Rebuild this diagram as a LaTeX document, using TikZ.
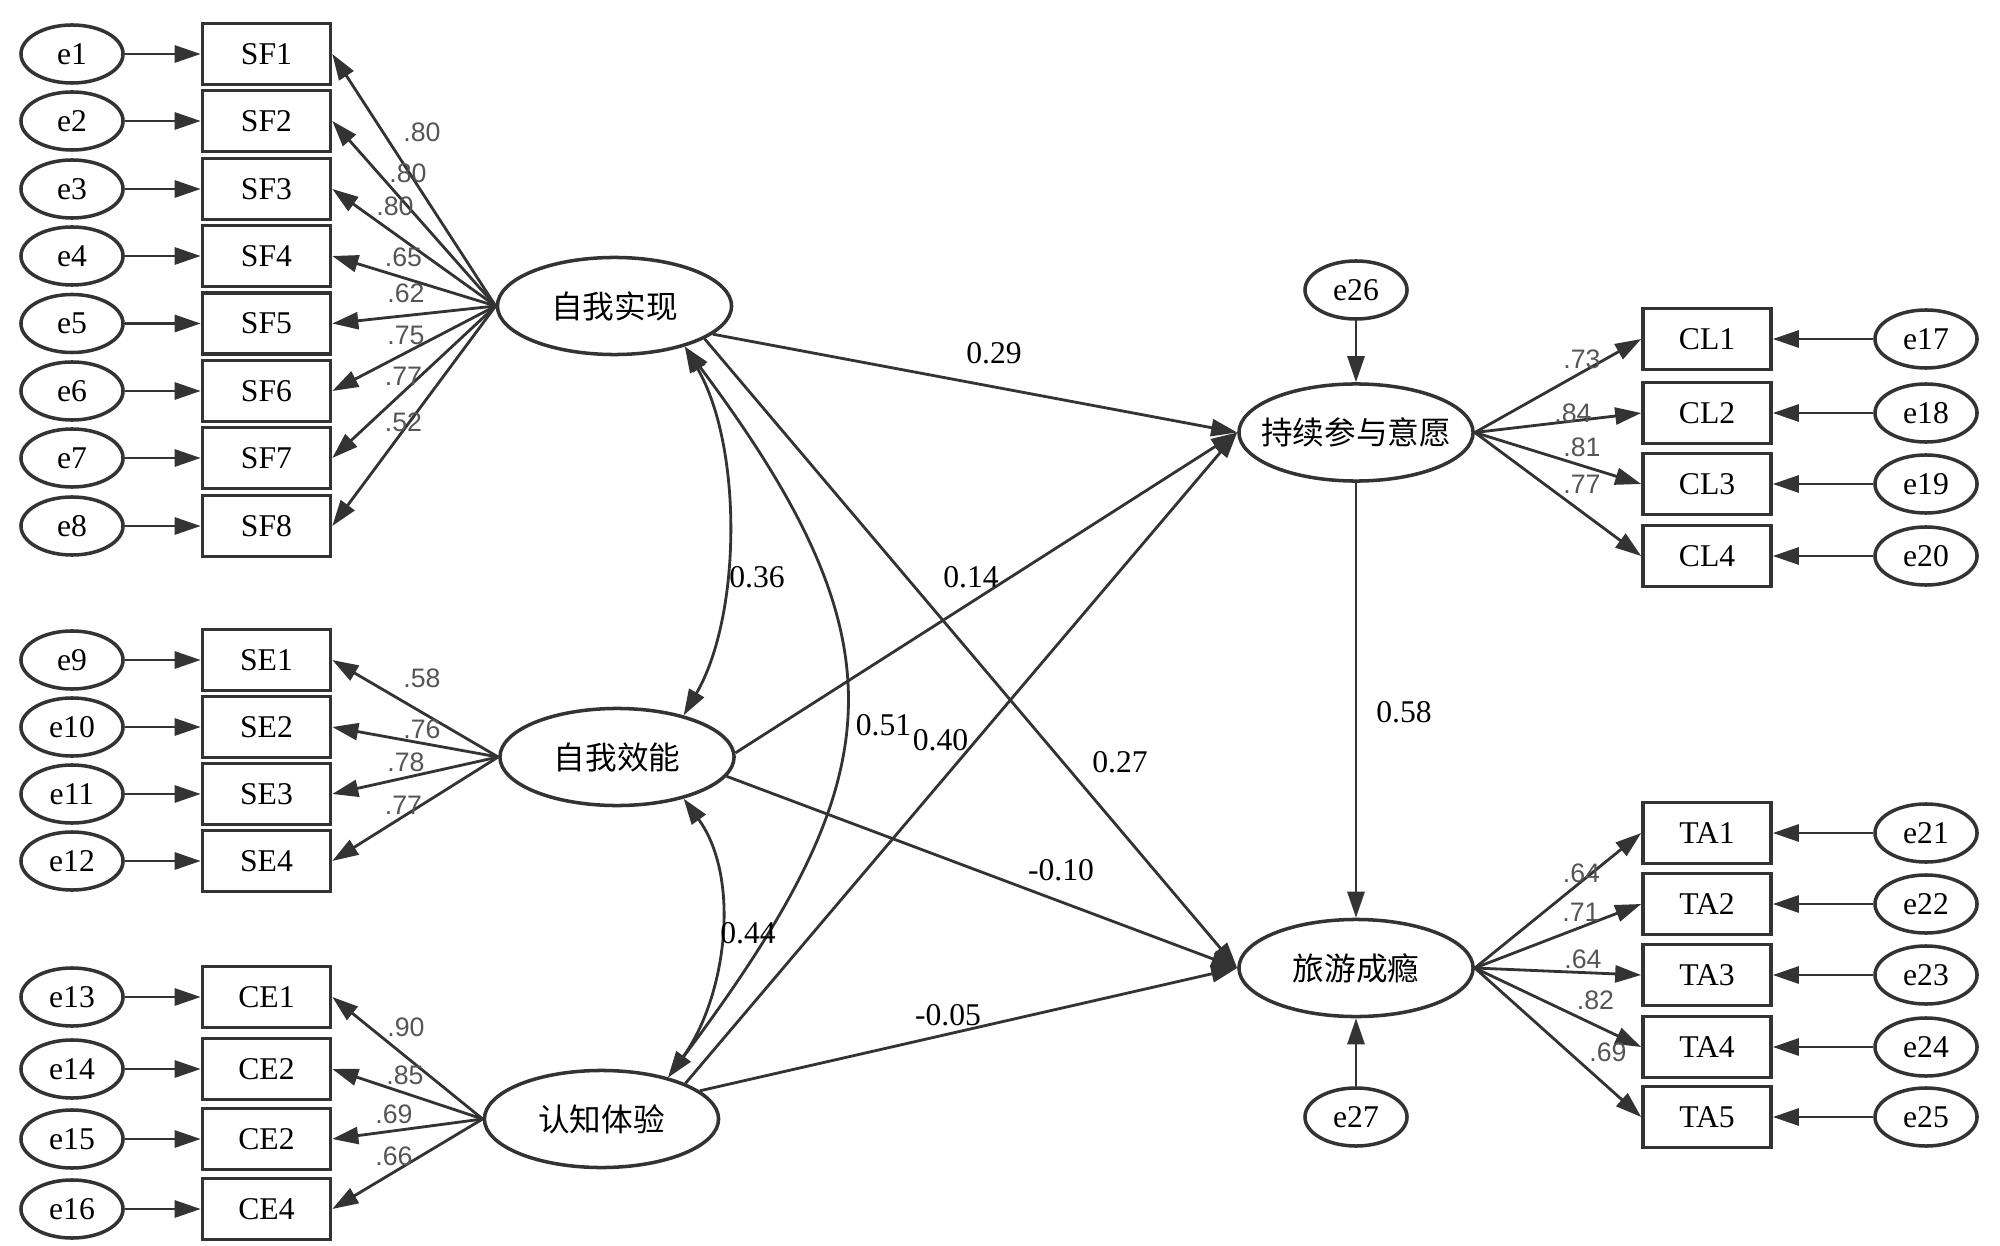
\documentclass[tikz,border=0pt]{standalone}
\usepackage{fontspec}
\setmainfont{Liberation Serif}
\newfontfamily\lsans{Liberation Sans}
\newfontfamily\cjk{Noto Sans CJK SC}
\usetikzlibrary{arrows.meta, shapes.geometric, positioning}
\definecolor{linec}{RGB}{51,51,51}
\definecolor{labgray}{RGB}{85,85,85}

\begin{document}
\begin{tikzpicture}[x=0.01cm, y=-0.01cm,
  err/.style={ellipse, draw=linec, line width=1pt, minimum width=1.02cm, minimum height=0.58cm, inner sep=0pt, font=\fontsize{9}{10}\selectfont},
  obs/.style={rectangle, draw=linec, line width=1pt, minimum width=1.28cm, minimum height=0.61cm, inner sep=0pt, font=\fontsize{9}{10}\selectfont},
  lat/.style={ellipse, draw=linec, line width=1pt, minimum width=2.34cm, minimum height=0.97cm, inner sep=0pt, font=\cjk\fontsize{9}{10}\selectfont},
  load/.style={text=labgray, inner sep=0pt, font=\lsans\fontsize{7.6}{8}\selectfont},
  coef/.style={inner sep=0pt, font=\fontsize{9}{10}\selectfont},
  arr/.style={draw=linec, line width=0.8pt, -{Triangle[length=2.6mm,width=1.7mm]}},
  cov/.style={draw=linec, line width=0.8pt, {Triangle[length=2.6mm,width=1.7mm]}-{Triangle[length=2.6mm,width=1.7mm]}}]
\useasboundingbox (0,0) rectangle (2000,1246);
% latent variables
\node[lat] (sa) at (614.5,306) {自我实现};
\node[lat] (se) at (617,757) {自我效能};
\node[lat] (ce) at (601.5,1119) {认知体验};
\node[lat] (cl) at (1356,432.5) {\makebox[0pt]{持续参与意愿}};
\node[lat] (ta) at (1356,968) {旅游成瘾};
\node[err] (e26) at (1356,290) {e26};
\node[err] (e27) at (1356,1117) {e27};
% indicators of sa
\node[err] (e1) at (72,54) {e1};
\node[err] (e2) at (72,121) {e2};
\node[err] (e3) at (72,189) {e3};
\node[err] (e4) at (72,256) {e4};
\node[err] (e5) at (72,323.5) {e5};
\node[err] (e6) at (72,391) {e6};
\node[err] (e7) at (72,458) {e7};
\node[err] (e8) at (72,526) {e8};
\node[obs] (sf1) at (266.5,54) {SF1};
\node[obs] (sf2) at (266.5,121) {SF2};
\node[obs] (sf3) at (266.5,189) {SF3};
\node[obs] (sf4) at (266.5,256) {SF4};
\node[obs] (sf5) at (266.5,323.5) {SF5};
\node[obs] (sf6) at (266.5,391) {SF6};
\node[obs] (sf7) at (266.5,458) {SF7};
\node[obs] (sf8) at (266.5,526) {SF8};
\draw[arr] (e1) -- (sf1);
\draw[arr] (e2) -- (sf2);
\draw[arr] (e3) -- (sf3);
\draw[arr] (e4) -- (sf4);
\draw[arr] (e5) -- (sf5);
\draw[arr] (e6) -- (sf6);
\draw[arr] (e7) -- (sf7);
\draw[arr] (e8) -- (sf8);
\draw[arr] (sa.west) -- (sf1.east);
\draw[arr] (sa.west) -- (sf2.east);
\draw[arr] (sa.west) -- (sf3.east);
\draw[arr] (sa.west) -- (sf4.east);
\draw[arr] (sa.west) -- (sf5.east);
\draw[arr] (sa.west) -- (sf6.east);
\draw[arr] (sa.west) -- (sf7.east);
\draw[arr] (sa.west) -- (sf8.east);
\node[load] (lsf1) at (422,132) {.80};
\node[load] (lsf2) at (408,173) {.80};
\node[load] (lsf3) at (395,206.5) {.80};
\node[load] (lsf4) at (403.5,257.5) {.65};
\node[load] (lsf5) at (406,293) {.62};
\node[load] (lsf6) at (406,335) {.75};
\node[load] (lsf7) at (403.5,376.5) {.77};
\node[load] (lsf8) at (403.5,422) {.52};
% indicators of se
\node[err] (e9) at (72,660) {e9};
\node[err] (e10) at (72,727) {e10};
\node[err] (e11) at (72,794) {e11};
\node[err] (e12) at (72,861) {e12};
\node[obs] (se1) at (266.5,660) {SE1};
\node[obs] (se2) at (266.5,727) {SE2};
\node[obs] (se3) at (266.5,794) {SE3};
\node[obs] (se4) at (266.5,861) {SE4};
\draw[arr] (e9) -- (se1);
\draw[arr] (e10) -- (se2);
\draw[arr] (e11) -- (se3);
\draw[arr] (e12) -- (se4);
\draw[arr] (se.west) -- (se1.east);
\draw[arr] (se.west) -- (se2.east);
\draw[arr] (se.west) -- (se3.east);
\draw[arr] (se.west) -- (se4.east);
\node[load] (lse1) at (422,678.5) {.58};
\node[load] (lse2) at (422,729) {.76};
\node[load] (lse3) at (406,762) {.78};
\node[load] (lse4) at (403.5,805) {.77};
% indicators of ce
\node[err] (e13) at (72,997) {e13};
\node[err] (e14) at (72,1069) {e14};
\node[err] (e15) at (72,1139) {e15};
\node[err] (e16) at (72,1209) {e16};
\node[obs] (ce1) at (266.5,997) {CE1};
\node[obs] (ce2) at (266.5,1069) {CE2};
\node[obs] (ce3) at (266.5,1139) {CE2};
\node[obs] (ce4) at (266.5,1209) {CE4};
\draw[arr] (e13) -- (ce1);
\draw[arr] (e14) -- (ce2);
\draw[arr] (e15) -- (ce3);
\draw[arr] (e16) -- (ce4);
\draw[arr] (ce.west) -- (ce1.east);
\draw[arr] (ce.west) -- (ce2.east);
\draw[arr] (ce.west) -- (ce3.east);
\draw[arr] (ce.west) -- (ce4.east);
\node[load] (lce1) at (406,1027) {.90};
\node[load] (lce2) at (405,1075) {.85};
\node[load] (lce3) at (394,1114.5) {.69};
\node[load] (lce4) at (394,1156) {.66};
% indicators of cl
\node[obs] (cl1) at (1707,339) {CL1};
\node[obs] (cl2) at (1707,413) {CL2};
\node[obs] (cl3) at (1707,484) {CL3};
\node[obs] (cl4) at (1707,556) {CL4};
\node[err] (e17) at (1926,339) {e17};
\node[err] (e18) at (1926,413) {e18};
\node[err] (e19) at (1926,484) {e19};
\node[err] (e20) at (1926,556) {e20};
\draw[arr] (e17) -- (cl1);
\draw[arr] (e18) -- (cl2);
\draw[arr] (e19) -- (cl3);
\draw[arr] (e20) -- (cl4);
\draw[arr] (cl.east) -- (cl1.west);
\draw[arr] (cl.east) -- (cl2.west);
\draw[arr] (cl.east) -- (cl3.west);
\draw[arr] (cl.east) -- (cl4.west);
\node[load] (lcl1) at (1582,359) {.73};
\node[load] (lcl2) at (1573,413.5) {.84};
\node[load] (lcl3) at (1582,447) {.81};
\node[load] (lcl4) at (1582,484) {.77};
% indicators of ta
\node[obs] (ta1) at (1707,833) {TA1};
\node[obs] (ta2) at (1707,904) {TA2};
\node[obs] (ta3) at (1707,975) {TA3};
\node[obs] (ta4) at (1707,1047) {TA4};
\node[obs] (ta5) at (1707,1117) {TA5};
\node[err] (e21) at (1926,833) {e21};
\node[err] (e22) at (1926,904) {e22};
\node[err] (e23) at (1926,975) {e23};
\node[err] (e24) at (1926,1047) {e24};
\node[err] (e25) at (1926,1117) {e25};
\draw[arr] (e21) -- (ta1);
\draw[arr] (e22) -- (ta2);
\draw[arr] (e23) -- (ta3);
\draw[arr] (e24) -- (ta4);
\draw[arr] (e25) -- (ta5);
\draw[arr] (ta.east) -- (ta1.west);
\draw[arr] (ta.east) -- (ta2.west);
\draw[arr] (ta.east) -- (ta3.west);
\draw[arr] (ta.east) -- (ta4.west);
\draw[arr] (ta.east) -- (ta5.west);
\node[load] (lta1) at (1581.5,873.5) {.64};
\node[load] (lta2) at (1581,912) {.71};
\node[load] (lta3) at (1583,959.5) {.64};
\node[load] (lta4) at (1595.5,1000.5) {.82};
\node[load] (lta5) at (1608,1052) {.69};
% structural paths
\draw[arr] (sa.-16) -- (cl.west);
\draw[arr] (sa.-20) -- (ta.west);
\draw[arr] (se.2) -- (cl.west);
\draw[arr] (se.-10) -- (ta.west);
\draw[arr] (ce.23) -- (cl.west);
\draw[arr] (ce.16) -- (ta.west);
\draw[arr] (cl) -- (ta);
\draw[arr] (e26) -- (cl);
\draw[arr] (e27) -- (ta);
% covariances
\draw[cov] (sa.-30) .. controls +(58,100) and +(58,-100) .. (se.32);
\draw[cov] (se.-32) .. controls +(58,80) and +(58,-80) .. (ce.32);
\draw[cov] (sa.-30) .. controls +(224,300) and +(224,-300) .. (ce.32);
\node[coef] (p1) at (994,353) {0.29};
\node[coef] (p2) at (757,577) {0.36};
\node[coef] (p3) at (971,577) {0.14};
\node[coef] (p4) at (883.5,725) {0.51};
\node[coef] (p5) at (940.5,740.5) {0.40};
\node[coef] (p6) at (1120,762) {0.27};
\node[coef] (p7) at (1061,870) {-0.10};
\node[coef] (p8) at (748,933) {0.44};
\node[coef] (p9) at (948,1015) {-0.05};
\node[coef] (p10) at (1404,712) {0.58};
\end{tikzpicture}
\end{document}
